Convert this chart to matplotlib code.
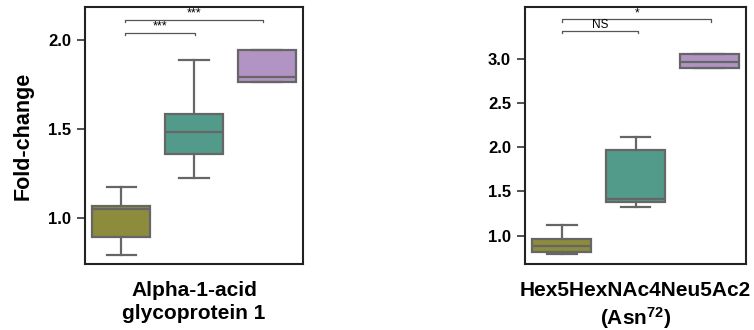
import matplotlib
matplotlib.use("Agg")
import matplotlib.pyplot as plt

plt.rcParams['font.family'] = ['Liberation Sans', 'DejaVu Sans']
plt.rcParams['mathtext.default'] = 'regular'

groups = ['G1', 'G2', 'G3']
colors = ['#8c8c3c', '#529a8a', '#b294c4']
edge = '#666666'

# alpha-1-acid glycoprotein 1: whislo, q1, med, q3, whishi
agp_lo = [0.792, 1.223, 1.766]
agp_q1 = [0.895, 1.360, 1.766]
agp_med = [1.049, 1.485, 1.790]
agp_q3 = [1.069, 1.583, 1.944]
agp_hi = [1.176, 1.889, 1.944]

# Hex5HexNAc4Neu5Ac2 (Asn72)
gly_lo = [0.790, 1.320, 2.894]
gly_q1 = [0.820, 1.377, 2.894]
gly_med = [0.887, 1.414, 2.962]
gly_q3 = [0.963, 1.966, 3.057]
gly_hi = [1.120, 2.110, 3.057]

agp_brackets = [(0.05, 1.01, 2.040, '***'), (0.05, 1.95, 2.111, '***')]
gly_brackets = [(0.0, 1.03, 3.311, 'NS'), (0.0, 2.03, 3.443, '*')]


def draw_panel(ax, lo, q1, med, q3, hi, brackets, ylim, yticks, xlabel, tip, sigsize):
    stats = []
    for i in range(len(groups)):
        stats.append(dict(whislo=lo[i], q1=q1[i], med=med[i], q3=q3[i],
                          whishi=hi[i], fliers=[]))
    bp = ax.bxp(stats, positions=range(len(groups)), widths=0.8,
                patch_artist=True, showfliers=False,
                boxprops=dict(edgecolor=edge, linewidth=1.6),
                medianprops=dict(color=edge, linewidth=1.6),
                whiskerprops=dict(color=edge, linewidth=1.6),
                capprops=dict(color=edge, linewidth=1.6))
    for patch, c in zip(bp['boxes'], colors):
        patch.set_facecolor(c)
    for x1, x2, y, label in brackets:
        ax.plot([x1, x1, x2, x2], [y - tip, y, y, y - tip], color='#555555', lw=0.9)
        ax.text((x1 + x2) / 2, y + tip * 0.2, label, ha='center', va='bottom',
                fontsize=sigsize)
    ax.set_xlim(-0.5, 2.5)
    ax.set_ylim(*ylim)
    ax.set_yticks(yticks)
    ax.set_yticklabels(['%.1f' % t for t in yticks], fontsize=12, fontweight='bold')
    ax.set_xticks([])
    ax.tick_params(axis='y', length=6, width=1.2, color='#333333', pad=4)
    for s in ax.spines.values():
        s.set_linewidth(1.5)
        s.set_color('#222222')
    ax.set_xlabel(xlabel, fontsize=15, fontweight='bold', labelpad=12, linespacing=1.3)


fig = plt.figure(figsize=(7.54, 3.3), dpi=100)
ax1 = fig.add_axes([85 / 754, 66 / 330, 218 / 754, 257 / 330])
ax2 = fig.add_axes([525 / 754, 66 / 330, 221 / 754, 257 / 330])

draw_panel(ax1, agp_lo, agp_q1, agp_med, agp_q3, agp_hi, agp_brackets,
           (0.742, 2.186), [1.0, 1.5, 2.0], 'Alpha-1-acid\nglycoprotein 1', 0.012, 9)
draw_panel(ax2, gly_lo, gly_q1, gly_med, gly_q3, gly_hi, gly_brackets,
           (0.681, 3.584), [1.0, 1.5, 2.0, 2.5, 3.0],
           'Hex5HexNAc4Neu5Ac2\n(Asn$^{72}$)', 0.025, 8.5)

ax1.set_ylabel('Fold-change', fontsize=15.5, fontweight='bold')
ax1.yaxis.set_label_coords(-0.235, 0.5)

fig.savefig('out.png', dpi=100)
